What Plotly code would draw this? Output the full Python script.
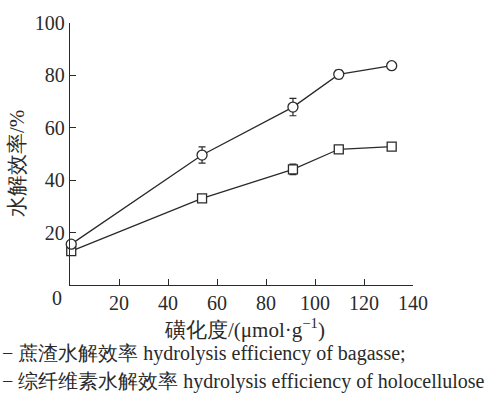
import plotly.graph_objects as go

# Data
sulfonation = [0.5, 53.9, 91.0, 109.7, 131.3]
bagasse = [15.6, 49.6, 67.9, 80.4, 83.7]
bagasse_err = [0.8, 3.1, 3.3, 1.6, 0.8]
holocellulose = [12.9, 33.1, 44.1, 51.8, 52.8]
holocellulose_err = [0.8, 0.8, 2.0, 1.0, 0.8]

x_ticks = [20, 40, 60, 80, 100, 120, 140]
y_ticks = [20, 40, 60, 80, 100]

SERIF = "Liberation Serif"
INK = "#2a2a2a"

fig = go.Figure()
fig.add_trace(go.Scatter(
    x=sulfonation, y=holocellulose, mode="lines+markers", cliponaxis=False,
    line=dict(color=INK, width=1.3),
    marker=dict(symbol="square", size=9, color="white", line=dict(color=INK, width=1.3)),
    error_y=dict(type="data", array=holocellulose_err, color=INK, thickness=1.2, width=3.5),
    showlegend=False,
))
fig.add_trace(go.Scatter(
    x=sulfonation, y=bagasse, mode="lines+markers", cliponaxis=False,
    line=dict(color=INK, width=1.3),
    marker=dict(symbol="circle", size=10, color="white", line=dict(color=INK, width=1.3)),
    error_y=dict(type="data", array=bagasse_err, color=INK, thickness=1.2, width=3.5),
    showlegend=False,
))

def make_axis(rng, ticks):
    return dict(
        range=rng, tickvals=ticks,
        showline=True, linecolor=INK, linewidth=1.3, mirror=False,
        ticks="inside", ticklen=6, tickwidth=1.2, tickcolor=INK,
        showgrid=False, zeroline=False,
        tickfont=dict(family=SERIF, size=20, color=INK),
    )

def note(text, x, y, xshift=0, yshift=0, xanchor="center", size=20, angle=0):
    return dict(text=text, xref="paper", yref="paper", x=x, y=y,
                xshift=xshift, yshift=yshift, xanchor=xanchor, yanchor="middle",
                textangle=angle, showarrow=False,
                font=dict(family=SERIF, size=size, color=INK))

fig.update_layout(
    width=502, height=397,
    margin=dict(l=70, r=89, t=18, b=112),
    paper_bgcolor="white", plot_bgcolor="white",
    xaxis=make_axis([0, 140], x_ticks),
    yaxis=make_axis([0, 100], y_ticks),
    annotations=[
        note("0", 0, 0, xshift=-13, yshift=-13),
        note("水解效率/%", 0, 0.5, xshift=-53, yshift=-10, size=21, angle=-90),
        note("磺化度/(μmol·g<sup>−1</sup>)", 0.5, 0, xshift=3, yshift=-43, size=21),
        note("− 蔗渣水解效率 hydrolysis efficiency of bagasse;", 0, 0,
             xshift=-70, yshift=-68, xanchor="left"),
        note("− 综纤维素水解效率 hydrolysis efficiency of holocellulose", 0, 0,
             xshift=-70, yshift=-96, xanchor="left"),
    ],
)

fig.write_html("out.html")
